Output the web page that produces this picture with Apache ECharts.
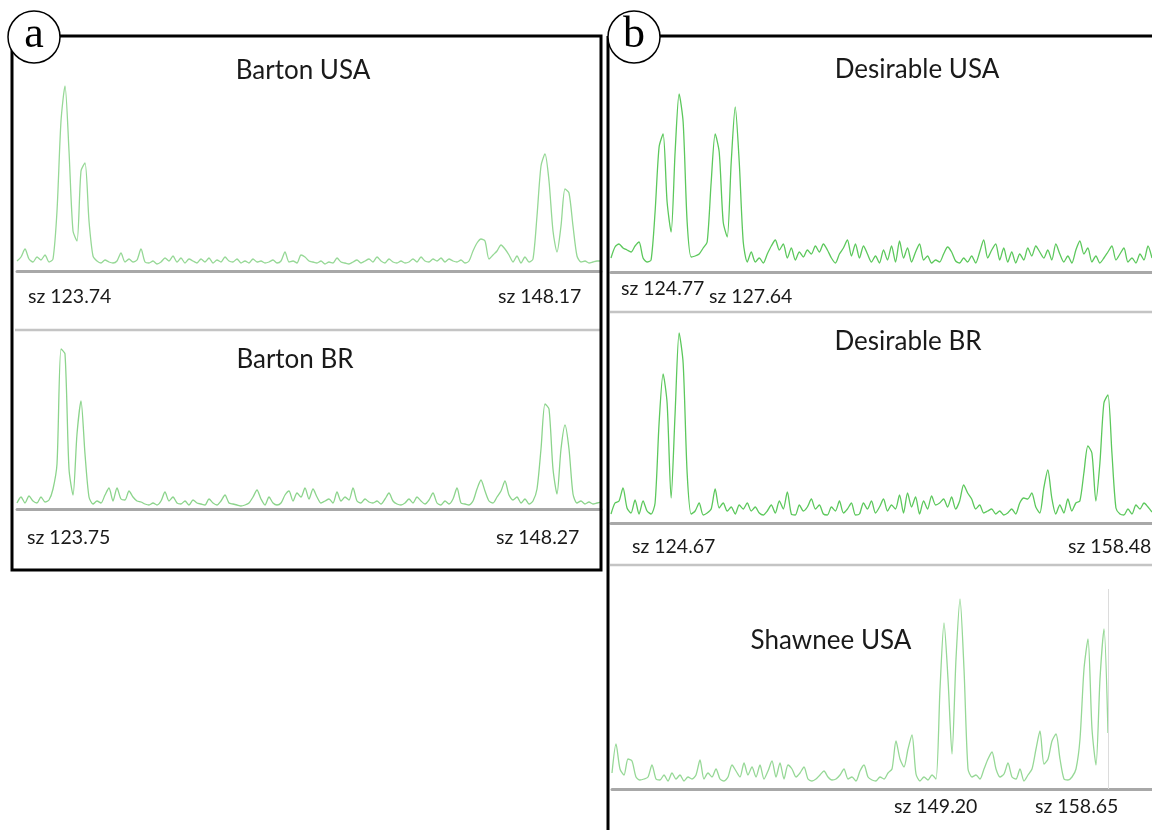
<!DOCTYPE html>
<html>
<head>
<meta charset="utf-8">
<script src="https://cdn.jsdelivr.net/npm/echarts@6/dist/echarts.min.js"></script>
<style>
    html, body {margin: 0; padding: 0; background: #fff;}
    #chart {width: 1152px; height: 830px;}
</style>
</head>
<body>
<div id="chart"></div>
<script>
// signal height above baseline, one value per scan step
var bartonUsa = [10,14,22,12,9,14,11,16,9,12,60,150,185,120,40,30,100,108,50,15,
    10,8,11,9,8,10,18,9,12,9,11,22,9,8,10,7,9,13,10,15,
    9,13,8,12,10,8,12,9,13,8,11,9,14,10,9,12,8,10,8,12,
    9,10,8,9,11,8,10,19,9,10,8,16,14,10,9,8,10,7,9,8,
    13,9,8,7,9,11,8,10,12,9,14,10,8,12,9,8,10,8,9,12,
    9,14,10,9,12,10,13,9,12,10,9,11,8,10,20,28,32,30,12,16,
    20,26,22,16,9,15,8,14,9,12,55,105,117,90,40,19,45,82,78,45,
    15,9,10,8,9,10,10];

var bartonBr = [6,12,6,13,8,6,12,7,9,20,45,160,155,40,14,75,108,55,12,5,
    8,6,14,21,8,21,10,9,18,12,8,7,5,4,6,4,8,17,8,12,
    6,5,8,4,9,6,5,4,10,6,4,8,14,6,5,4,3,4,6,12,
    19,10,4,12,6,4,6,14,18,8,16,12,21,10,20,12,6,8,10,6,
    17,8,12,9,21,8,6,10,7,6,8,5,10,16,8,5,4,6,10,6,
    12,8,5,9,16,6,4,8,5,10,21,6,5,4,8,20,29,18,8,6,
    12,18,28,14,9,12,6,10,5,8,20,60,105,100,40,15,60,84,60,15,
    6,8,5,7,5,6,7];

var desirableUsa = [14,25,28,24,22,20,26,30,14,10,12,60,125,138,70,40,120,178,150,50,
    15,16,18,24,30,90,138,120,50,35,110,165,110,30,10,20,10,14,9,18,
    26,32,22,28,14,24,12,20,15,22,18,26,20,28,22,14,9,18,24,32,
    16,28,14,26,18,10,16,9,22,12,26,10,31,14,24,10,20,28,12,16,
    9,12,10,18,25,20,11,9,14,10,16,9,20,32,14,22,28,12,24,10,
    20,9,18,12,24,16,26,20,14,22,12,28,18,10,16,9,22,31,18,24,
    10,16,9,14,20,26,12,18,24,10,14,9,18,12,26,14];

var desirableBr = [9,20,22,35,15,10,23,9,22,12,9,20,100,149,120,25,110,190,160,50,
    9,12,20,8,10,14,34,15,20,12,16,9,18,14,20,12,16,10,8,12,
    18,10,22,14,31,9,8,18,12,16,24,14,18,9,8,16,12,22,10,14,
    20,8,9,20,14,22,10,16,24,12,18,14,28,10,30,16,26,9,22,14,
    27,18,20,24,16,26,14,22,38,30,24,14,18,10,12,14,9,12,8,10,
    14,9,20,25,24,30,16,10,35,53,25,9,18,10,24,12,20,22,50,77,
    70,22,60,120,128,70,15,9,8,14,9,18,14,20,16,11];

var shawneeUsa = [16,45,20,14,30,28,12,9,10,12,24,10,9,14,8,16,10,14,8,12,
    10,14,29,10,16,12,20,10,8,12,24,18,12,26,14,22,12,24,10,18,
    28,12,26,10,24,20,12,16,22,10,8,10,14,18,12,9,10,14,20,10,
    12,8,18,24,12,9,8,12,10,16,20,48,30,22,40,54,15,8,12,9,
    14,10,100,166,110,35,130,190,120,20,12,14,10,20,30,37,20,12,15,26,
    12,10,20,8,14,20,40,58,25,30,48,55,30,10,9,12,20,50,120,150,
    60,24,110,160,56];

var traceNames = ['Barton USA', 'Barton BR', 'Desirable USA', 'Desirable BR', 'Shawnee USA'];
var traceData = [bartonUsa, bartonBr, desirableUsa, desirableBr, shawneeUsa];
var sizeCalls = [
    ['sz 123.74', 'sz 148.17'],
    ['sz 123.75', 'sz 148.27'],
    ['sz 124.77', 'sz 127.64'],
    ['sz 124.67', 'sz 158.48'],
    ['sz 149.20', 'sz 158.65']
];

// layout of each trace box (pixels)
var layout = [
    {left: 17, width: 584, base: 271, xMax: 146, color: '#96d896', title: [303, 71], calls: [[28, 297], [498, 297]]},
    {left: 17, width: 584, base: 509, xMax: 146, color: '#8cd48c', title: [295, 360], calls: [[27, 538], [496, 538]]},
    {left: 611, width: 541, base: 272, xMax: 135, color: '#5cc85c', title: [917, 70], calls: [[621, 289], [709, 297]]},
    {left: 611, width: 541, base: 523, xMax: 135, color: '#5cc85c', title: [908, 342], calls: [[632, 547], [1068, 547]]},
    {left: 612, width: 540, base: 789, xMax: 135, color: '#96d896', title: [831, 641], calls: [[894, 807], [1035, 807]]}
];

var grids = [], xAxes = [], yAxes = [], series = [], graphics = [];

layout.forEach(function (p, k) {
    grids.push({left: p.left, width: p.width, top: p.base - 200, height: 200});
    xAxes.push({
        type: 'value', gridIndex: k, min: 0, max: p.xMax,
        axisLine: {show: true, lineStyle: {color: '#a8a8a8', width: 3}},
        axisTick: {show: false}, axisLabel: {show: false}, splitLine: {show: false}
    });
    yAxes.push({type: 'value', gridIndex: k, min: 0, max: 200, show: false});
    var s = {
        type: 'line', xAxisIndex: k, yAxisIndex: k,
        data: traceData[k].map(function (v, i) { return [i, v]; }),
        showSymbol: false, smooth: 0.25, z: 3,
        lineStyle: {color: p.color, width: 1.3}
    };
    if (k === 4) {
        s.markLine = {
            silent: true, symbol: 'none', label: {show: false},
            lineStyle: {color: '#dcdcdc', width: 1, type: 'solid'},
            data: [{xAxis: traceData[k].length - 1}]
        };
    }
    series.push(s);

    graphics.push({
        type: 'text', x: p.title[0], y: p.title[1], z: 10,
        style: {text: traceNames[k], font: '26px Lato', fill: '#1a1a1a', align: 'center', verticalAlign: 'middle'}
    });
    p.calls.forEach(function (c, j) {
        graphics.push({
            type: 'text', x: c[0], y: c[1], z: 10,
            style: {text: sizeCalls[k][j], font: '19.5px Lato', fill: '#1a1a1a', align: 'left', verticalAlign: 'middle'}
        });
    });
});

// separators and panel frames
[[15, 330, 600, 330], [610, 312, 1152, 312], [610, 565, 1152, 565]].forEach(function (l) {
    graphics.push({type: 'line', z: 5, shape: {x1: l[0], y1: l[1], x2: l[2], y2: l[3]}, style: {stroke: '#c4c4c4', lineWidth: 2.5}});
});
graphics.push({type: 'rect', z: 6, shape: {x: 12, y: 36, width: 589, height: 534}, style: {fill: 'none', stroke: '#000', lineWidth: 3}});
graphics.push({type: 'line', z: 6, shape: {x1: 608, y1: 36, x2: 608, y2: 830}, style: {stroke: '#000', lineWidth: 3}});
graphics.push({type: 'line', z: 6, shape: {x1: 608, y1: 36, x2: 1152, y2: 36}, style: {stroke: '#000', lineWidth: 3}});
[['a', 34, 37], ['b', 634, 37]].forEach(function (c) {
    graphics.push({type: 'circle', z: 20, shape: {cx: c[1], cy: c[2], r: 26}, style: {fill: '#fff', stroke: '#000', lineWidth: 1.5}});
    graphics.push({
        type: 'text', z: 21, x: c[1], y: c[2] - 2,
        style: {text: c[0], font: '44px "Liberation Serif"', fill: '#000', align: 'center', verticalAlign: 'middle'}
    });
});

var myChart = echarts.init(document.getElementById('chart'));
myChart.setOption({
    animation: false,
    grid: grids,
    xAxis: xAxes,
    yAxis: yAxes,
    series: series,
    graphic: graphics
});
</script>
</body>
</html>
